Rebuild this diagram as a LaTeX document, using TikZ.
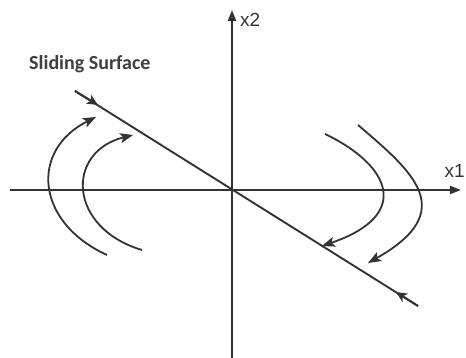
\documentclass[tikz,border=0pt]{standalone}
\usepackage{fontspec}
\setsansfont{Liberation Sans}
\newfontfamily\surffont{Carlito}
\usetikzlibrary{arrows.meta,positioning}
\definecolor{linegray}{HTML}{333333}
\definecolor{textgray}{HTML}{3F3F3F}

\begin{document}
\begin{tikzpicture}[
  x=1pt, y=-1pt,
  >={Stealth[length=13pt, width=10pt, inset=3pt]},
  axis/.style={draw=linegray, line width=2pt, -{Triangle[length=11pt, width=8pt]}},
  traj/.style={draw=linegray, line width=1.8pt, ->},
  surf/.style={draw=linegray, line width=1.9pt},
  surftip/.style={draw=linegray, line width=1.9pt, -{Stealth[length=11pt, width=10pt, inset=3pt]}},
  axlabel/.style={font=\sffamily\fontsize{19}{19}\selectfont, text=linegray, inner sep=0pt}
]
  \useasboundingbox[fill=white] (0,0) rectangle (466,358);

  \coordinate (o) at (232,190);
  \coordinate (xl) at (10,190);
  \coordinate (xr) at (461,190);
  \coordinate (yb) at (232,358);
  \coordinate (yt) at (232,10);
  \coordinate (s1) at (75,91);
  \coordinate (s2) at (418,306);
  \coordinate (t1) at (98,105);
  \coordinate (t2) at (396,292);

  \node[axlabel, anchor=west] (lx2) at (240,20) {x2};
  \node[axlabel, anchor=east] (lx1) at (465,171) {x1};
  \node[font=\surffont\bfseries\fontsize{20}{20}\selectfont, text=textgray, inner sep=0pt, anchor=west] (lss) at (29,64) {Sliding Surface};

  \draw[axis] (xl) -- (xr);
  \draw[axis] (yb) -- (yt);

  \draw[surf] (s1) -- (s2);
  \draw[surftip] (s1) -- (t1);
  \draw[surftip] (s2) -- (t2);

  \draw[traj] (107,255) .. controls (35,222) and (30,150) .. (96,117);
  \draw[traj] (142,250) .. controls (68,228) and (65,152) .. (133,135);
  \draw[traj] (325,134) .. controls (390,165) and (413,215) .. (322,246);
  \draw[traj] (358,125) .. controls (413,172) and (460,211) .. (368,263);
\end{tikzpicture}
\end{document}
